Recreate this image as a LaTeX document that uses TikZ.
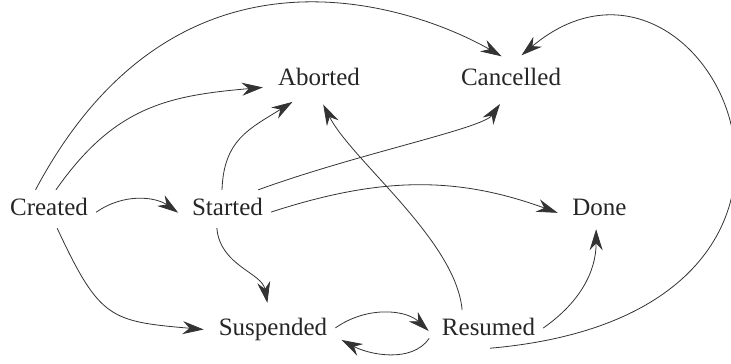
\documentclass[tikz,border=0pt]{standalone}
\usepackage{fontspec}
\setmainfont{Liberation Serif}
\usetikzlibrary{arrows.meta}

\tikzstyle{state} = [rectangle, anchor=base, inner sep=8pt,
text height=17pt, text depth=5pt, text=black!85, font=\fontsize{25}{30}\selectfont]
\tikzstyle{line} = [draw, black!80, line width=0.8pt, shorten >=7pt,
-{Stealth[length=21pt,width=13pt]}]

\begin{document}
\begin{tikzpicture}[x=1pt, y=-1pt]
\useasboundingbox (0,0) rectangle (731,364);
\node [state] (Created) at (49,215) {Created};
\node [state] (Started) at (227.5,215) {Started};
\node [state] (Aborted) at (319,85) {Aborted};
\node [state] (Cancelled) at (511,85) {Cancelled};
\node [state] (Done) at (599.5,215) {Done};
\node [state] (Suspended) at (273,335) {Suspended};
\node [state] (Resumed) at (488.5,335) {Resumed};

\path [line] (Created.125) to[out=62, in=150, out distance=312pt, in distance=95pt] (Cancelled.100);
\path [line] (Created.70) to[out=55, in=185, looseness=1.1] (Aborted.189);
\path [line] (Created.356) to[out=35, in=145] (Started.190);
\path [line] (Created.293) to[out=295, in=175, looseness=1.4] (Suspended.181);
\path [line] (Started.106) to[out=88, in=212, out distance=50pt, in distance=58pt] (Aborted.223);
\path [line] (Started.32) to[out=20, in=235, out distance=105pt, in distance=37pt] (Cancelled.250);
\path [line] (Started.356) to[out=18, in=160] (Done.190);
\path [line] (Started.241) to[out=275, in=100] (Suspended.103);
\path [line] (Suspended.1) to[out=35, in=137] (Resumed.187);
\path [line, shorten <=8pt] (Resumed.183) to[out=235, in=332] (Suspended.353);
\path [line] (Resumed.144) to[out=95, in=297, looseness=0.7] (Aborted.273);
\path [line, shorten >=1pt] (Resumed.1) to[out=35, in=270] (Done.260);
\path [line] (Resumed.275) to[out=5, in=40, out distance=415pt, in distance=250pt] (Cancelled.75);
\end{tikzpicture}
\end{document}
